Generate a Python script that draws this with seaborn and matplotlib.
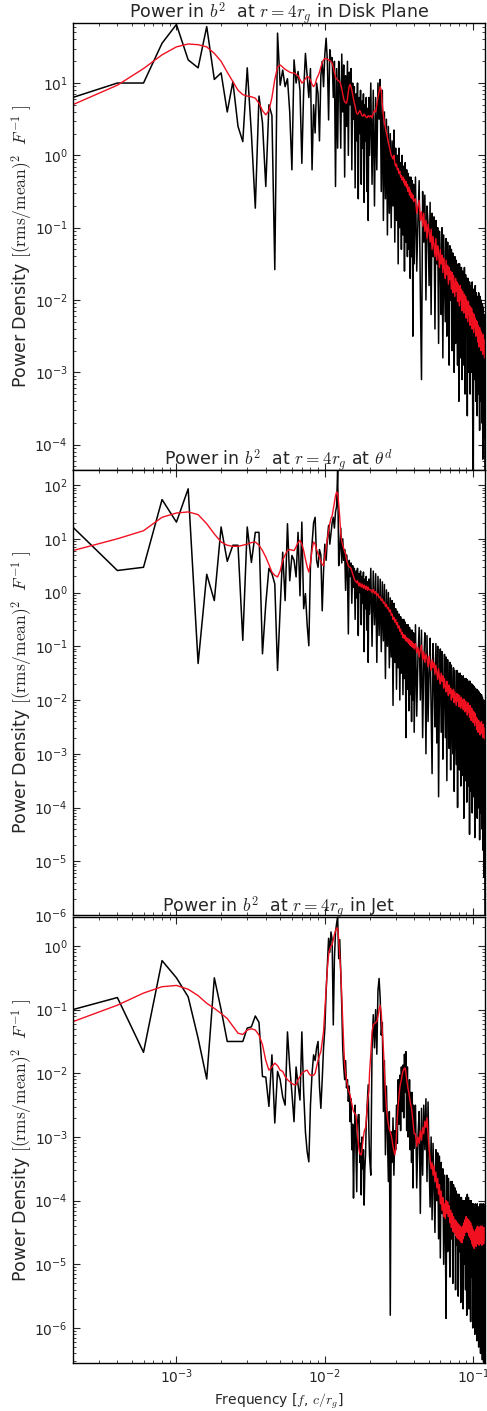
import numpy as np
import pandas as pd
import matplotlib
matplotlib.use("Agg")
import matplotlib.pyplot as plt
import seaborn as sns
from matplotlib.ticker import LogLocator, NullFormatter

# ---------------- data (log10 of power) ----------------
DF = 2e-4                      # frequency step [c/r_g]
K_LO = list(range(1, 101))     # harmonic numbers, dense part
K_MID = list(range(102, 201, 2))
K_HI = list(range(204, 601, 4))

TITLES = [r"Power in $b^2$  at $r=4r_g$ in Disk Plane",
          r"Power in $b^2$  at $r=4r_g$ at $\theta^d$",
          r"Power in $b^2$  at $r=4r_g$ in Jet"]
YLIMS_LOG = [(-4.35, 1.83), (-6.0, 2.28), (-6.55, 0.455)]

P1_BLACK_LO = [0.80, 1.00, 1.00, 1.55, 1.81, 1.32, 1.21, 1.78, 1.05, 1.14,
               0.60, 1.02, 0.40, 0.19, 1.21, 0.30, -0.73, 0.82, 0.45, -0.43,
               0.70, 0.55, -1.58, 1.69, 0.97, 1.18, 0.95, 1.06, 0.60, -0.20,
               1.32, 1.00, 1.16, 0.90, -0.11, 0.90, 1.41, 1.10, 0.80, 1.20,
               -0.20, 0.70, 0.31, 1.00, 0.85, 0.20, 1.10, 1.30, 0.95, 1.40,
               1.62, 1.30, 0.49, 1.46, 1.30, 1.35, 0.80, 1.30, -0.43, 1.20,
               0.10, 1.30, 0.95, 0.10, 1.40, 0.60, 1.25, -0.30, 1.10, 0.40,
               1.30, 0.00, 1.15, 0.70, 1.20, -0.20, 1.00, 0.50, 0.95, -0.45,
               0.85, 0.20, 1.00, -0.60, 0.80, 0.30, 0.90, -0.40, 0.75, 0.10,
               0.85, -0.65, 0.70, 0.20, 0.80, -0.50, 0.65, -0.90, 0.80, 0.00]
P1_BLACK_MID = [1.00, -0.40, 0.90, -0.70, 0.80, -0.20, 1.00, 0.50, 1.05, -0.50,
                0.90, -0.90, 0.60, -0.60, 0.50, -1.10, 0.40, -0.80, 0.30, -1.00,
                0.20, -0.70, 0.35, -1.20, 0.10, -0.90, 0.00, -1.50, 0.10, -1.00,
                -0.10, -1.30, 0.00, -1.10, -0.15, -1.60, -0.10, -1.20, -0.20, -1.40,
                -0.25, -1.30, -0.30, -1.70, -0.30, -1.40, -0.35, -2.50, -0.40, -1.50]
P1_BLACK_HI = [-0.30, -1.60, -0.90, -0.35, -1.90, -3.10, -0.50, -1.20, -0.55, -2.00,
               -0.70, -0.95, -1.80, -0.65, -2.20, -0.80, -1.40, -0.85, -2.40, -0.90,
               -1.50, -1.00, -2.60, -1.05, -1.45, -2.20, -1.00, -2.80, -1.10, -1.70,
               -2.30, -1.15, -2.50, -1.20, -1.60, -2.90, -1.25, -2.00, -1.30, -2.70,
               -1.35, -1.90, -3.00, -1.40, -2.60, -1.45, -2.10, -2.90, -1.50, -3.40,
               -1.50, -2.30, -2.80, -1.55, -3.10, -1.60, -2.20, -2.90, -1.55, -3.30,
               -1.65, -2.40, -1.70, -3.60, -1.70, -2.60, -3.00, -1.75, -3.30, -1.80,
               -2.50, -3.00, -1.75, -3.70, -4.80, -1.85, -2.70, -3.10, -1.80, -3.40,
               -1.90, -2.80, -3.60, -1.95, -3.30, -1.90, -2.90, -3.80, -1.95, -3.40,
               -2.00, -3.00, -3.70, -2.05, -4.20, -2.10, -3.20, -3.90, -2.20, -4.60]
P1_RED_LO = [0.70, 0.97, 1.20, 1.39, 1.50, 1.54, 1.53, 1.50, 1.41, 1.30,
             1.15, 1.02, 0.90, 0.84, 0.82, 0.81, 0.79, 0.72, 0.62, 0.56,
             0.62, 0.80, 1.05, 1.22, 1.25, 1.22, 1.19, 1.17, 1.15, 1.14,
             1.14, 1.12, 1.10, 1.05, 1.00, 1.02, 1.06, 1.09, 1.08, 1.04,
             0.98, 0.95, 0.98, 1.06, 1.10, 1.15, 1.22, 1.28, 1.32, 1.34,
             1.34, 1.33, 1.32, 1.31, 1.30, 1.27, 1.22, 1.15, 1.08, 1.06,
             1.04, 1.03, 1.02, 0.98, 0.92, 0.85, 0.78, 0.74, 0.73, 0.72,
             0.78, 0.88, 0.96, 0.98, 0.95, 0.90, 0.84, 0.78, 0.72, 0.68,
             0.62, 0.58, 0.57, 0.58, 0.60, 0.62, 0.60, 0.57, 0.55, 0.54,
             0.55, 0.57, 0.56, 0.54, 0.53, 0.52, 0.53, 0.55, 0.54, 0.53]
P1_RED_MID = [0.55, 0.52, 0.58, 0.62, 0.60, 0.70, 0.80, 0.88, 0.95, 0.90,
              0.70, 0.55, 0.45, 0.38, 0.31, 0.25, 0.18, 0.12, 0.06, 0.00,
              -0.02, -0.05, 0.00, -0.10, -0.15, -0.12, -0.20, -0.18, -0.25, -0.22,
              -0.30, -0.28, -0.34, -0.30, -0.38, -0.33, -0.42, -0.36, -0.45, -0.40,
              -0.50, -0.44, -0.55, -0.48, -0.58, -0.52, -0.60, -0.55, -0.64, -0.62]
P1_RED_HI = [-0.60, -0.80, -0.70, -0.62, -0.90, -0.78, -0.98, -0.80, -1.05, -0.90,
             -1.15, -0.95, -1.05, -1.20, -1.02, -1.30, -1.12, -1.25, -1.40, -1.15,
             -1.45, -1.25, -1.35, -1.55, -1.30, -1.50, -1.38, -1.62, -1.42, -1.55,
             -1.70, -1.45, -1.65, -1.52, -1.78, -1.55, -1.72, -1.60, -1.85, -1.62,
             -1.90, -1.66, -1.80, -1.95, -1.70, -1.88, -1.75, -2.02, -1.78, -1.95,
             -2.08, -1.80, -2.00, -1.85, -2.15, -1.88, -2.05, -2.18, -1.92, -2.10,
             -1.95, -2.25, -2.00, -2.15, -2.30, -2.02, -2.20, -2.08, -2.35, -2.10,
             -2.28, -2.12, -2.40, -2.18, -2.32, -2.45, -2.20, -2.38, -2.25, -2.50,
             -2.28, -2.45, -2.30, -2.58, -2.35, -2.50, -2.65, -2.38, -2.55, -2.42,
             -2.70, -2.45, -2.62, -2.50, -2.75, -2.48, -2.68, -2.55, -2.80, -2.60]

P2_BLACK_LO = [1.22, 0.41, 0.47, 1.73, 1.31, 1.93, -1.32, 0.34, -0.15, 1.22,
               0.58, 0.88, 0.88, -0.89, 1.22, 0.56, 1.12, 1.12, -1.14, -0.21,
               0.45, 0.35, 0.16, -1.45, -0.30, 0.75, -0.15, 1.28, 0.22, 0.69,
               0.60, 0.29, 1.12, -0.06, 1.31, -0.30, -0.02, -0.60, -0.99, 0.50,
               0.90, 1.30, 1.40, 0.60, 0.47, 0.80, 0.70, -0.34, 0.40, 0.90,
               0.60, 1.00, 1.25, 0.90, 1.10, 1.30, 1.40, 1.20, 1.50, 1.60,
               2.30, 0.50, 0.80, 1.20, 0.55, 1.00, 0.60, 0.80, 0.04, 0.70,
               0.40, -0.77, 0.60, 0.30, 0.55, -0.20, 0.50, 0.10, 0.45, -0.50,
               0.40, -0.10, 0.45, -0.80, 0.35, 0.00, 0.40, -0.60, 0.30, -0.20,
               0.38, -1.10, 0.25, -0.30, 0.30, -0.70, 0.20, -1.30, 0.25, -0.40]
P2_BLACK_MID = [0.45, -1.00, 0.40, -0.60, 0.35, -1.30, 0.30, -0.80, 0.25, -1.10,
                0.20, -0.90, 0.15, -1.60, 0.05, -1.00, 0.00, -1.40, -0.10, -1.20,
                -0.15, -2.10, -0.20, -1.30, -0.30, -1.80, -0.35, -1.40, -0.40, -2.00,
                -0.45, -1.50, -0.50, -1.90, -0.50, -1.60, -0.55, -2.70, -0.60, -1.80,
                -0.60, -2.20, -0.65, -1.90, -0.70, -2.40, -0.70, -2.00, -0.75, -2.60]
P2_BLACK_HI = [-0.60, -2.30, -1.20, -0.65, -2.00, -0.70, -2.70, -1.30, -0.75, -3.00,
               -0.80, -2.40, -1.50, -0.85, -2.10, -3.37, -0.95, -1.60, -2.50, -0.95,
               -2.80, -1.00, -3.80, -1.70, -1.05, -2.60, -1.10, -3.10, -1.80, -1.15,
               -2.70, -1.20, -3.50, -1.25, -2.00, -2.90, -1.30, -3.30, -1.35, -2.20,
               -3.00, -1.40, -3.70, -1.45, -2.40, -3.20, -1.45, -4.00, -1.50, -2.50,
               -3.30, -1.50, -3.60, -1.55, -2.60, -3.40, -1.55, -4.20, -1.60, -2.70,
               -3.50, -1.60, -3.90, -1.62, -2.80, -3.60, -1.65, -4.50, -1.65, -2.90,
               -3.70, -1.70, -4.10, -1.72, -3.00, -3.80, -1.75, -4.56, -1.78, -3.10,
               -3.90, -1.80, -4.20, -1.82, -3.20, -4.00, -1.85, -4.60, -1.88, -3.40,
               -4.10, -1.90, -4.40, -1.95, -3.60, -4.80, -2.00, -5.30, -2.10, -6.20]
P2_RED_LO = [0.78, 1.00, 1.15, 1.40, 1.48, 1.50, 1.45, 1.28, 1.09, 0.94,
             0.88, 0.86, 0.86, 0.88, 0.90, 0.93, 0.94, 0.88, 0.78, 0.66,
             0.52, 0.38, 0.32, 0.29, 0.40, 0.60, 0.70, 0.78, 0.80, 0.79,
             0.78, 0.85, 0.93, 0.97, 0.90, 0.78, 0.62, 0.48, 0.38, 0.55,
             0.80, 0.94, 0.90, 0.80, 0.72, 0.66, 0.58, 0.52, 0.50, 0.68,
             0.84, 1.00, 1.15, 1.28, 1.38, 1.43, 1.55, 1.68, 1.80, 1.87,
             1.85, 1.65, 1.40, 1.09, 0.95, 0.88, 0.82, 0.76, 0.72, 0.60,
             0.55, 0.50, 0.48, 0.47, 0.45, 0.40, 0.35, 0.30, 0.25, 0.22,
             0.20, 0.18, 0.22, 0.16, 0.12, 0.18, 0.14, 0.10, 0.16, 0.12,
             0.08, 0.14, 0.10, 0.06, 0.12, 0.10, 0.04, 0.10, 0.06, 0.05]
P2_RED_MID = [0.05, 0.00, 0.06, -0.02, 0.02, -0.06, -0.02, -0.10, -0.08, -0.15,
              -0.12, -0.20, -0.18, -0.26, -0.22, -0.30, -0.28, -0.36, -0.32, -0.42,
              -0.40, -0.50, -0.46, -0.55, -0.50, -0.60, -0.56, -0.66, -0.62, -0.72,
              -0.68, -0.78, -0.74, -0.84, -0.78, -0.86, -0.80, -0.90, -0.84, -0.92,
              -0.86, -0.95, -0.88, -0.98, -0.90, -1.00, -0.92, -1.02, -0.95, -1.05]
P2_RED_HI = [-0.95, -1.12, -1.02, -1.20, -1.05, -0.98, -1.25, -1.10, -1.30, -1.15,
             -1.22, -1.38, -1.18, -1.32, -1.45, -1.25, -1.40, -1.30, -1.52, -1.35,
             -1.48, -1.62, -1.42, -1.58, -1.70, -1.50, -1.65, -1.55, -1.78, -1.60,
             -1.75, -1.85, -1.65, -1.80, -1.92, -1.72, -1.88, -1.78, -2.00, -1.82,
             -1.95, -1.80, -2.05, -1.85, -1.98, -2.10, -1.88, -2.02, -1.90, -2.12,
             -1.92, -2.08, -2.15, -1.95, -2.10, -2.00, -2.18, -1.98, -2.14, -2.22,
             -2.02, -2.18, -2.08, -2.28, -2.05, -2.22, -2.12, -2.32, -2.10, -2.26,
             -2.38, -2.15, -2.30, -2.20, -2.42, -2.22, -2.36, -2.48, -2.25, -2.40,
             -2.32, -2.55, -2.35, -2.48, -2.60, -2.38, -2.52, -2.42, -2.65, -2.45,
             -2.58, -2.40, -2.62, -2.48, -2.70, -2.45, -2.60, -2.52, -2.72, -2.55]

P3_BLACK_LO = [-1.00, -0.81, -1.67, -0.23, -0.50, -0.80, -1.45, -2.09, -0.50, -1.00,
               -1.50, -1.50, -1.50, -1.50, -1.29, -1.27, -1.10, -1.20, -2.05, -2.06,
               -2.52, -1.71, -2.78, -1.97, -2.10, -2.37, -2.50, -1.35, -1.90, -2.31,
               -2.76, -1.90, -2.18, -2.42, -1.35, -2.30, -2.92, -3.23, -3.39, -2.50,
               -2.00, -1.71, -1.80, -1.60, -1.50, -2.20, -2.55, -2.10, -1.60, -1.30,
               -0.72, -0.30, 0.12, -0.10, 0.22, 0.10, -1.24, -0.20, 0.22, 0.35,
               0.46, -0.20, 0.10, -0.40, -0.93, -1.61, -1.90, -2.10, -1.80, -2.23,
               -2.10, -2.44, -2.20, -2.76, -2.40, -3.20, -2.80, -3.96, -3.00, -2.50,
               -3.20, -3.86, -2.80, -2.65, -2.65, -3.40, -3.10, -3.91, -3.00, -3.50,
               -3.20, -4.07, -3.50, -3.28, -2.80, -2.60, -2.40, -2.18, -2.90, -3.30]
P3_BLACK_MID = [-3.60, -1.60, -1.08, -1.60, -1.00, -1.70, -0.70, -0.51, -0.82, -1.40,
                -1.20, -2.60, -1.80, -3.28, -2.20, -3.00, -3.70, -2.60, -5.80, -2.92,
                -3.40, -2.70, -3.60, -2.90, -3.20, -2.50, -3.10, -2.10, -2.80, -2.03,
                -2.90, -1.90, -2.60, -1.87, -2.70, -1.70, -2.30, -1.66, -2.90, -1.90,
                -3.00, -2.86, -2.10, -3.20, -2.30, -3.40, -2.30, -3.80, -2.50, -3.18]
P3_BLACK_HI = [-2.50, -3.80, -3.00, -2.60, -4.20, -2.55, -3.60, -2.50, -3.20, -2.40,
               -3.70, -2.45, -3.40, -4.10, -3.00, -4.30, -3.10, -3.80, -4.50, -3.20,
               -4.00, -3.25, -4.60, -3.30, -4.90, -3.40, -4.20, -3.50, -5.00, -3.60,
               -4.40, -5.85, -3.60, -4.80, -3.65, -4.30, -5.20, -3.70, -4.60, -3.70,
               -5.30, -3.75, -4.50, -3.80, -5.40, -3.85, -4.70, -3.90, -5.50, -3.90,
               -4.80, -3.95, -5.60, -3.95, -4.90, -4.00, -5.70, -4.00, -5.00, -4.00,
               -5.40, -3.95, -5.80, -3.90, -4.90, -3.95, -5.70, -4.00, -5.10, -5.90,
               -4.00, -5.20, -4.05, -6.00, -4.05, -5.30, -4.10, -6.10, -4.05, -5.40,
               -4.10, -6.20, -4.05, -5.50, -4.10, -6.30, -4.10, -5.60, -4.05, -6.40,
               -4.10, -5.70, -4.05, -6.50, -4.10, -5.80, -4.05, -6.60, -4.10, -6.60]
P3_RED_LO = [-1.19, -0.93, -0.74, -0.64, -0.62, -0.68, -0.78, -0.90, -0.98, -1.06,
             -1.14, -1.26, -1.37, -1.39, -1.32, -1.30, -1.32, -1.40, -1.55, -1.80,
             -1.95, -1.90, -1.84, -1.88, -1.95, -1.97, -2.05, -2.10, -2.13, -2.16,
             -2.18, -2.18, -2.10, -2.05, -2.00, -1.98, -1.96, -1.95, -2.00, -2.03,
             -2.03, -2.03, -2.00, -1.90, -1.80, -1.72, -1.66, -1.50, -1.35, -1.00,
             -0.65, -0.35, -0.14, -0.05, 0.00, 0.02, 0.10, 0.18, 0.24, 0.28,
             0.28, 0.10, -0.15, -0.40, -0.80, -1.20, -1.55, -1.87, -2.00, -2.10,
             -2.20, -2.26, -2.30, -2.34, -2.42, -2.48, -2.55, -2.60, -2.62, -2.64,
             -2.65, -2.80, -2.95, -3.10, -3.20, -3.26, -3.28, -3.28, -3.20, -3.10,
             -3.00, -2.92, -2.88, -2.86, -2.75, -2.60, -2.45, -2.35, -2.29, -2.00]
P3_RED_MID = [-1.70, -1.35, -1.24, -1.22, -1.20, -1.19, -1.10, -1.00, -0.93, -1.05,
              -1.35, -1.61, -1.95, -2.30, -2.55, -2.70, -2.80, -2.88, -2.92, -2.97,
              -3.05, -3.15, -3.22, -3.28, -3.20, -2.95, -2.70, -2.50, -2.35, -2.23,
              -2.15, -2.10, -2.02, -1.97, -1.94, -1.92, -1.92, -2.00, -2.10, -2.18,
              -2.25, -2.30, -2.38, -2.45, -2.50, -2.55, -2.65, -2.75, -2.85, -2.95]
P3_RED_HI = [-2.95, -3.15, -3.00, -3.10, -2.90, -3.05, -2.85, -2.95, -2.75, -2.85,
             -2.70, -2.95, -3.20, -3.35, -3.50, -3.40, -3.60, -3.45, -3.70, -3.55,
             -3.80, -3.65, -3.90, -3.75, -4.05, -3.85, -4.15, -3.95, -4.25, -4.05,
             -4.28, -4.00, -4.20, -4.02, -4.25, -4.08, -4.35, -4.15, -4.42, -4.20,
             -4.48, -4.25, -4.50, -4.30, -4.55, -4.32, -4.58, -4.35, -4.60, -4.38,
             -4.62, -4.40, -4.65, -4.42, -4.66, -4.40, -4.60, -4.35, -4.55, -4.30,
             -4.50, -4.25, -4.48, -4.28, -4.50, -4.30, -4.55, -4.32, -4.58, -4.35,
             -4.62, -4.40, -4.68, -4.45, -4.72, -4.48, -4.75, -4.50, -4.70, -4.45,
             -4.72, -4.42, -4.68, -4.40, -4.65, -4.45, -4.70, -4.42, -4.66, -4.40,
             -4.68, -4.44, -4.70, -4.40, -4.65, -4.45, -4.68, -4.42, -4.62, -4.50]

# ---------------- figure ----------------
sns.set_style("ticks", {"xtick.direction": "in", "ytick.direction": "in",
                        "axes.edgecolor": "black"})
plt.rcParams["font.family"] = ["DejaVu Sans"]
plt.rcParams["mathtext.fontset"] = "cm"

freq = DF * np.array(K_LO + K_MID + K_HI, dtype=float)
panels = [
    (P1_BLACK_LO + P1_BLACK_MID + P1_BLACK_HI, P1_RED_LO + P1_RED_MID + P1_RED_HI),
    (P2_BLACK_LO + P2_BLACK_MID + P2_BLACK_HI, P2_RED_LO + P2_RED_MID + P2_RED_HI),
    (P3_BLACK_LO + P3_BLACK_MID + P3_BLACK_HI, P3_RED_LO + P3_RED_MID + P3_RED_HI),
]

W, H = 487, 1411
fig = plt.figure(figsize=(W / 100, H / 100), dpi=100)
left, right = 72.7, 485.0
boxes = [(23, 470), (470, 915), (917, 1363)]

for i, ((blk, red), (top, bot)) in enumerate(zip(panels, boxes)):
    ax = fig.add_axes([left / W, 1 - bot / H, (right - left) / W, (bot - top) / H])
    df = pd.DataFrame({"f": freq, "black": 10.0 ** np.array(blk),
                       "red": 10.0 ** np.array(red)})
    sns.lineplot(data=df, x="f", y="black", ax=ax, color="black", lw=1.1,
                 estimator=None, sort=False, legend=False)
    sns.lineplot(data=df, x="f", y="red", ax=ax, color="#f01020", lw=1.0,
                 estimator=None, sort=False, legend=False)
    ax.set_xscale("log")
    ax.set_yscale("log")
    ax.set_xlim(2.0e-4, 0.12)
    lo, hi = YLIMS_LOG[i]
    ax.set_ylim(10 ** lo, 10 ** hi)
    for axis in (ax.xaxis, ax.yaxis):
        axis.set_major_locator(LogLocator(base=10, numticks=20))
        axis.set_minor_locator(LogLocator(base=10, subs=np.arange(2, 10) * 1.0, numticks=40))
        axis.set_minor_formatter(NullFormatter())
    ax.tick_params(which="both", direction="in", top=True, right=True, labelsize=10)
    ax.tick_params(which="major", length=5, width=0.8)
    ax.tick_params(which="minor", length=2.5, width=0.6)
    for s in ax.spines.values():
        s.set_linewidth(1.0)
        s.set_color("black")
    ax.set_title(TITLES[i], fontsize=12.5, y=1.0, pad=3.4)
    ax.set_ylabel(r"Power Density $[\mathrm{(rms/mean)}^2\ \ F^{-1}\ ]$", fontsize=12.5)
    ax.yaxis.set_label_coords(-0.092, 0.5)
    if i < 2:
        ax.set_xlabel("")
        ax.tick_params(labelbottom=False)
    else:
        ax.set_xlabel(r"Frequency [$f$, $c/r_g$]", fontsize=10)

fig.savefig("out.png", dpi=100)
